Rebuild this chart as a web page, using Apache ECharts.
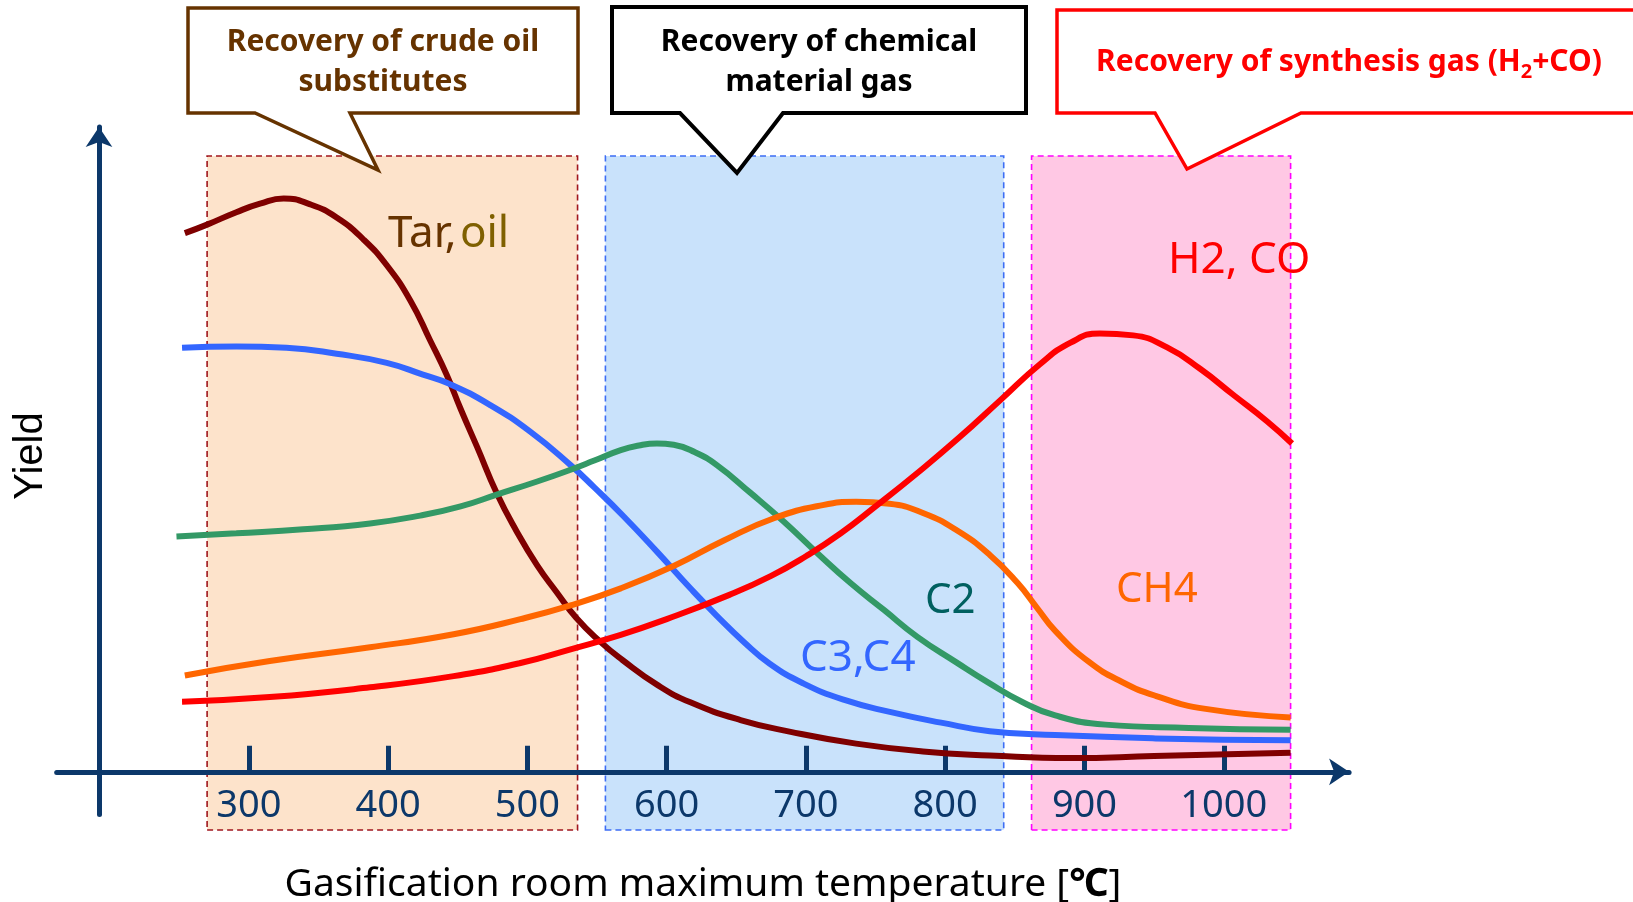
<!DOCTYPE html>
<html>
<head>
<meta charset="utf-8">
<title>Gasification yield</title>
<script src="https://cdn.jsdelivr.net/npm/echarts@6/dist/echarts.min.js"></script>
<style>
  html, body { margin: 0; padding: 0; background: #fff; }
  #chart { width: 1633px; height: 902px; }
</style>
</head>
<body>
<div id="chart"></div>
<script>
// temperature ticks on the x axis
const tempTicks = [300, 400, 500, 600, 700, 800, 900, 1000]

// recovery zones (temperature ranges)
const zoneStart = [270, 556, 862]
const zoneEnd = [536, 842, 1048]

// yield curves, [temperature, relative yield]
const tarOil = [[254, 82.2], [270, 83.5], [291, 85.4], [308, 86.7], [325, 87.5], [344, 86.6], [363, 84.6], [382, 81.3], [399, 77.3], [416, 71.9], [430, 65.9], [442, 60.6], [452, 55.4], [464, 49.5], [478, 42.5], [492, 36.8], [507, 31.5], [521, 27.4], [535, 23.5], [552, 19.9], [568, 17.1], [593, 13.3], [617, 10.6], [653, 7.9], [689, 6.1], [736, 4.3], [784, 3.1], [832, 2.5], [890, 2.1], [950, 2.4], [1048, 2.9]]
const c3c4 = [[252, 64.7], [291, 64.9], [327, 64.7], [363, 63.8], [399, 62.4], [425, 60.6], [444, 59.2], [473, 56.0], [502, 51.9], [531, 46.8], [548, 43.4], [569, 39.0], [593, 33.6], [617, 28.0], [636, 23.8], [655, 19.9], [674, 16.5], [698, 13.5], [727, 11.0], [761, 9.1], [797, 7.5], [832, 6.2], [879, 5.6], [951, 5.1], [1048, 4.8]]
const c2 = [[248, 35.9], [291, 36.4], [339, 37.0], [387, 37.9], [423, 39.1], [452, 40.5], [478, 42.3], [507, 44.3], [531, 46.1], [548, 47.5], [567, 49.1], [580, 49.8], [593, 50.1], [605, 49.9], [620, 48.8], [636, 46.8], [660, 42.6], [684, 38.2], [708, 33.4], [732, 28.8], [756, 24.7], [780, 20.6], [808, 16.7], [831, 13.6], [855, 10.7], [879, 8.6], [915, 7.2], [975, 6.7], [1048, 6.4]]
const ch4 = [[254, 14.7], [315, 16.9], [387, 19.0], [447, 21.0], [495, 23.3], [531, 25.4], [567, 28.0], [605, 31.4], [641, 35.3], [677, 38.7], [712, 40.7], [736, 41.2], [760, 40.9], [784, 39.5], [808, 36.9], [832, 33.1], [852, 28.8], [866, 25.0], [879, 21.5], [903, 16.8], [927, 13.7], [951, 11.6], [987, 9.6], [1048, 8.3]]
const h2co = [[252, 10.7], [315, 11.4], [387, 12.9], [447, 14.6], [495, 16.6], [531, 18.7], [567, 20.9], [600, 23.3], [645, 27.0], [675, 29.9], [700, 32.9], [725, 36.4], [750, 40.5], [780, 45.6], [810, 51.0], [840, 56.8], [868, 62.2], [890, 65.5], [911, 66.9], [935, 66.6], [959, 64.8], [983, 61.5], [1007, 57.5], [1031, 53.5], [1049, 50.1]]

const navy = '#0c386a'
const zoneFill = ['#fde3cb', '#c9e2fb', '#ffc8e4']
const zoneBorder = ['#a0161e', '#3d6ef5', '#ff00ff']

function curve (name, data, color) {
    return {
        name: name,
        type: 'line',
        xAxisIndex: 0,
        yAxisIndex: 0,
        data: data,
        smooth: 0.5,
        showSymbol: false,
        symbol: 'none',
        z: 6,
        lineStyle: { color: color, width: 6 }
    }
}

function callout (points, color, width) {
    return {
        type: 'polygon',
        z: 10,
        shape: { points: points },
        style: { fill: '#fff', stroke: color, lineWidth: width, lineJoin: 'miter' }
    }
}

function label (text, x, y, color, size, extra) {
    return Object.assign({
        type: 'text',
        z: 11,
        x: x,
        y: y,
        style: {
            text: text,
            fill: color,
            fontSize: size,
            fontFamily: 'Noto Sans',
            align: 'left',
            verticalAlign: 'middle'
        }
    }, extra || {})
}

const boxFont = { fontSize: 30, fontWeight: 'bold', fontFamily: 'Noto Sans' }

const options = {
    animation: false,
    grid: [
        { left: 56.7, width: 1292.4, top: 127, height: 687.4, outerBoundsMode: 'none', containLabel: false },
        { left: 56.7, width: 1292.4, top: 156, height: 674, outerBoundsMode: 'none', containLabel: false }
    ],
    xAxis: [
        {
            type: 'value',
            gridIndex: 0,
            min: 162,
            max: 1090,
            z: 4,
            axisLine: {
                onZero: true,
                symbol: ['none', 'arrow'],
                symbolSize: [20, 20],
                lineStyle: { color: navy, width: 5 }
            },
            axisTick: {
                inside: true,
                length: 26,
                customValues: tempTicks,
                lineStyle: { color: navy, width: 5 }
            },
            axisLabel: {
                customValues: tempTicks,
                formatter: (v) => String(v),
                margin: -27,
                color: navy,
                fontSize: 38,
                fontFamily: 'Noto Sans'
            },
            splitLine: { show: false },
            name: 'Gasification room maximum temperature [{b|℃}]',
            nameLocation: 'middle',
            nameGap: 51,
            nameTextStyle: {
                color: '#000',
                fontSize: 39,
                fontFamily: 'Noto Sans',
                rich: {
                    b: { color: '#000', fontSize: 39, fontWeight: 'bold', fontFamily: 'Noto Sans' }
                }
            }
        },
        { type: 'value', gridIndex: 1, min: 162, max: 1090, show: false }
    ],
    yAxis: [
        {
            type: 'value',
            gridIndex: 0,
            min: -6.5,
            max: 98.4,
            offset: -42.3,
            z: 4,
            axisLine: {
                show: true,
                onZero: false,
                symbol: ['none', 'arrow'],
                symbolSize: [20, 20],
                lineStyle: { color: navy, width: 5 }
            },
            axisTick: { show: false },
            axisLabel: { show: false },
            splitLine: { show: false }
        },
        { type: 'value', gridIndex: 1, min: 0, max: 1, show: false }
    ],
    series: [
        {
            name: 'zones',
            type: 'line',
            xAxisIndex: 1,
            yAxisIndex: 1,
            data: [],
            z: 1,
            markArea: {
                silent: true,
                data: zoneStart.map((s, i) => [
                    {
                        xAxis: s,
                        itemStyle: {
                            color: zoneFill[i],
                            borderColor: zoneBorder[i],
                            borderWidth: 1.6,
                            borderType: [6, 4]
                        }
                    },
                    { xAxis: zoneEnd[i] }
                ])
            }
        },
        curve('Tar, oil', tarOil, '#7f0000'),
        curve('C3,C4', c3c4, '#3366ff'),
        curve('C2', c2, '#339966'),
        curve('CH4', ch4, '#ff6600'),
        curve('H2, CO', h2co, '#ff0000')
    ],
    graphic: [
        callout([[188, 8], [578, 8], [578, 113], [350, 113], [378, 170], [255, 113], [188, 113]], '#663300', 3.5),
        callout([[612, 7], [1026, 7], [1026, 113], [783, 113], [737, 173], [680, 113], [612, 113]], '#000', 4),
        callout([[1057, 10], [1660, 10], [1660, 113], [1301, 113], [1187, 169], [1155, 113], [1057, 113]], '#ff0000', 3.5),
        {
            type: 'text', z: 11, x: 383, y: 62,
            style: Object.assign({ text: 'Recovery of crude oil\nsubstitutes', fill: '#663300', align: 'center', verticalAlign: 'middle', lineHeight: 40 }, boxFont)
        },
        {
            type: 'text', z: 11, x: 819, y: 62,
            style: Object.assign({ text: 'Recovery of chemical\nmaterial gas', fill: '#000', align: 'center', verticalAlign: 'middle', lineHeight: 40 }, boxFont)
        },
        {
            type: 'text', z: 11, x: 1349, y: 62,
            style: {
                text: '{a|Recovery of synthesis gas (H}{s|2}{a|+CO)}',
                align: 'center',
                verticalAlign: 'middle',
                rich: {
                    a: Object.assign({ fill: '#ff0000', lineHeight: 40 }, boxFont),
                    s: { fill: '#ff0000', fontSize: 20, fontWeight: 'bold', fontFamily: 'Noto Sans', lineHeight: 22, verticalAlign: 'bottom' }
                }
            }
        },
        {
            type: 'text', z: 11, x: 388, y: 234,
            style: {
                text: '{a|Tar,} {b|oil}',
                align: 'left',
                verticalAlign: 'middle',
                rich: {
                    a: { fill: '#663300', fontSize: 44, fontFamily: 'Noto Sans' },
                    b: { fill: '#7f6000', fontSize: 44, fontFamily: 'Noto Sans' }
                }
            }
        },
        label('H2, CO', 1168, 260, '#ff0000', 44),
        label('CH4', 1116, 590, '#ff6600', 42),
        label('C2', 925, 601, '#006060', 42),
        label('C3,C4', 800, 658, '#3366ff', 44),
        {
            type: 'text', z: 11, x: 31, y: 456, rotation: Math.PI / 2,
            style: { text: 'Yield', fill: '#000', fontSize: 40, fontFamily: 'Liberation Sans', align: 'center', verticalAlign: 'middle' }
        }
    ]
}

const chart = echarts.init(document.getElementById('chart'))
chart.setOption(options)
window.addEventListener('resize', () => {
    setTimeout(function () {
        chart.resize()
    }, 100)
})
</script>
</body>
</html>
